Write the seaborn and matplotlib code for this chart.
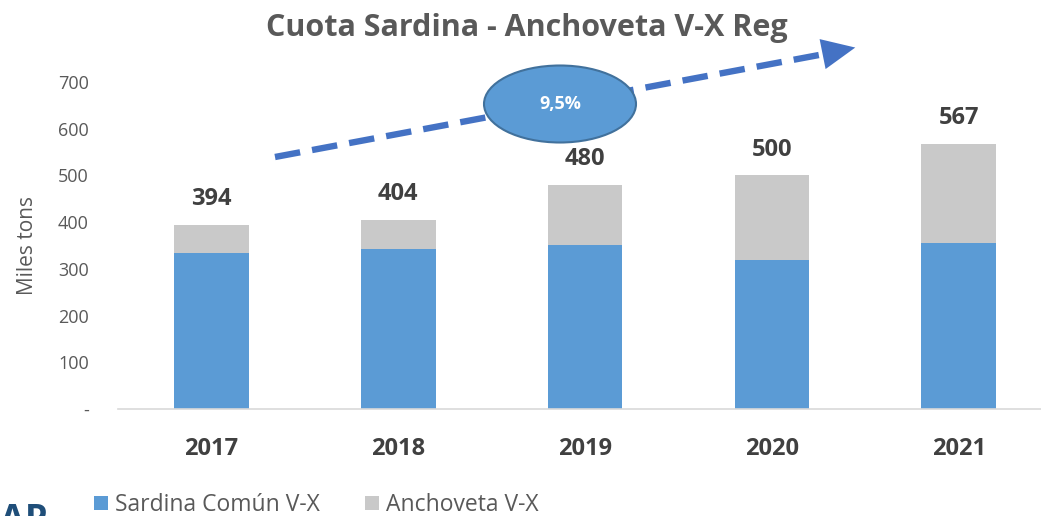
import matplotlib
matplotlib.use("Agg")
import matplotlib.pyplot as plt
import seaborn as sns
import pandas as pd
from matplotlib.patches import Ellipse, Patch, FancyArrowPatch
from matplotlib.lines import Line2D

years = ["2017", "2018", "2019", "2020", "2021"]
sardina = [335, 343, 352, 320, 356]
totals = [394, 404, 480, 500, 567]
total_labels = ["394", "404", "480", "500", "567"]
yticks = [0, 100, 200, 300, 400, 500, 600, 700]
ytick_labels = ["-", "100", "200", "300", "400", "500", "600", "700"]
growth_label = "9,5%"

sns.set_theme(style="white")
plt.rcParams['font.family'] = ['Open Sans', 'DejaVu Sans']

W, H = 1041, 516
fig = plt.figure(figsize=(W / 100, H / 100), dpi=100)
ax = fig.add_axes([118 / W, (H - 409) / H, (W - 118) / W, (409 - 82) / H])

df = pd.DataFrame({"year": years, "sardina": sardina, "total": totals})
blue = "#5B9BD5"
gray = "#C9C9C9"
sns.barplot(data=df, x="year", y="total", color=gray, width=0.4, ax=ax,
            saturation=1, edgecolor="none")
sns.barplot(data=df, x="year", y="sardina", color=blue, width=0.4, ax=ax,
            saturation=1, edgecolor="none")

ax.set_xlim(-0.5, 4.44)
ax.set_ylim(0, 700)
ax.set_yticks(yticks)
ax.set_yticklabels(ytick_labels, color="#595959", fontsize=13)
ax.tick_params(axis="y", length=0, pad=21)
ax.tick_params(axis="x", length=0, pad=20)
for lab in ax.get_xticklabels():
    lab.set_fontweight("bold")
    lab.set_fontsize(17)
    lab.set_color("#404040")
ax.set_xlabel("")
ax.set_ylabel("Miles tons", fontsize=15, color="#595959")
ax.yaxis.set_label_coords(-80 / 923, 0.5)
for s in ["top", "right", "left"]:
    ax.spines[s].set_visible(False)
ax.spines["bottom"].set_color("#D9D9D9")
ax.spines["bottom"].set_linewidth(1.2)

for i, (t, lbl) in enumerate(zip(totals, total_labels)):
    ax.annotate(lbl, (i, t), xytext=(0, 10), textcoords="offset points",
                ha="center", va="bottom", fontsize=17, fontweight="bold",
                color="#404040")

fig.text(527 / W, 1 - 28 / H, "Cuota Sardina - Anchoveta V-X Reg",
         ha="center", va="center", fontsize=22, fontweight="bold", color="#595959")

# trend arrow (figure pixel coords)
x0, y0 = 275, H - 157
x1, y1 = 835, H - 52
tip = (858, H - 47)
line = Line2D([x0, x1], [y0, y1], transform=None, color="#4472C4", lw=4.6,
              linestyle=(0, (4.0, 1.9)), solid_capstyle="butt", dash_capstyle="butt",
              zorder=2)
fig.lines.append(line)
head = FancyArrowPatch((828, H - 53), tip, transform=None,
                       arrowstyle="-|>,head_length=24,head_width=11",
                       color="#4472C4", lw=0, mutation_scale=1, zorder=2)
fig.patches.append(head)
ell = Ellipse((560, H - 104), 152, 77, transform=None, facecolor=blue,
              edgecolor="#41719C", lw=1.5, zorder=5)
fig.patches.append(ell)
fig.text(560 / W, 1 - 104 / H, growth_label, ha="center", va="center",
         color="white", fontsize=13, fontweight="bold", zorder=6)

handles = [Patch(facecolor=blue, edgecolor="none", label="Sardina Común V-X"),
           Patch(facecolor=gray, edgecolor="none", label="Anchoveta V-X")]
fig.legend(handles=handles, loc="center left", bbox_to_anchor=(94 / W, 1 - 505 / H),
           ncol=2, frameon=False, fontsize=16.5, handlelength=0.6, handleheight=0.6,
           handletextpad=0.3, columnspacing=2.0, labelcolor="#595959",
           borderpad=0, borderaxespad=0)

fig.text(0, 1 - 503 / H, "AP", ha="left", va="top", fontsize=26,
         fontweight="bold", color="#1F4E79")

fig.savefig("out.png", dpi=100)
